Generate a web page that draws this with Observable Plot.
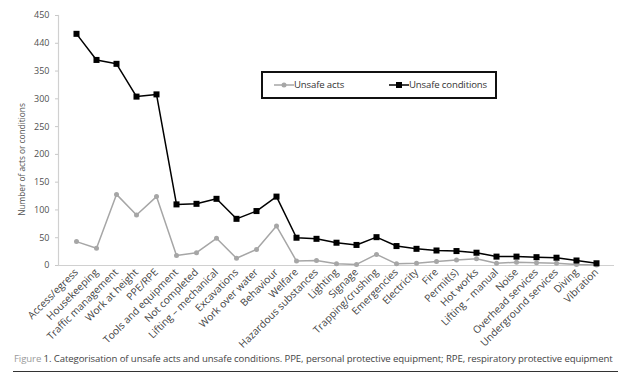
<!DOCTYPE html>
<html>
<head>
<meta charset="utf-8">
<script src="https://cdn.jsdelivr.net/npm/d3@7"></script>
<script src="https://cdn.jsdelivr.net/npm/@observablehq/plot@0.6"></script>
<style>
  body { margin: 0; background: #fff; font-family: "Open Sans", sans-serif; }
  #wrap { position: relative; width: 623px; height: 389px; }
  #legend { position: absolute; left: 261px; top: 71px; width: 232px; height: 24px; border: 2px solid #111; background: #fff; font-size: 9.6px; color: #333; letter-spacing: -0.15px; }
  #legend .item { position: absolute; top: 5px; display: flex; align-items: center; }
  #caption { position: absolute; left: 14px; top: 352px; font-size: 9.6px; color: #444; white-space: nowrap; letter-spacing: -0.1px; }
  #caption .fig { color: #9a9a9a; }
  #rule { position: absolute; left: 13px; top: 371px; width: 605px; height: 0; border-top: 1.6px solid #333; }
</style>
</head>
<body>
<div id="wrap">
  <div id="chart"></div>
  <div id="legend">
    <div class="item" style="left: 11px;"><svg width="20" height="12"><line x1="0" y1="6" x2="20" y2="6" stroke="#a6a6a6" stroke-width="1.5"/><circle cx="10" cy="6" r="2.5" fill="#a6a6a6"/></svg><span>Unsafe acts</span></div>
    <div class="item" style="left: 126px;"><svg width="20" height="12"><line x1="0" y1="6" x2="20" y2="6" stroke="#000" stroke-width="1.5"/><rect x="7" y="3" width="6" height="6" fill="#000"/></svg><span>Unsafe conditions</span></div>
  </div>
  <div id="caption"><span class="fig">Figure</span> 1. Categorisation of unsafe acts and unsafe conditions. PPE, personal protective equipment; RPE, respiratory protective equipment</div>
  <div id="rule"></div>
</div>
<script>
const categories = ["Access/egress", "Housekeeping", "Traffic management", "Work at height", "PPE/RPE", "Tools and equipment", "Not completed", "Lifting – mechanical", "Excavations", "Work over water", "Behaviour", "Welfare", "Hazardous substances", "Lighting", "Signage", "Trapping/crushing", "Emergencies", "Electricity", "Fire", "Permit(s)", "Hot works", "Lifting – manual", "Noise", "Overhead services", "Underground services", "Diving", "Vibration"];
const unsafeActs = [43, 31, 128, 91, 124, 18, 23, 49, 13, 29, 71, 8, 9, 3, 2, 20, 3, 4, 7, 10, 12, 4, 6, 5, 4, 2, 1];
const unsafeConditions = [417, 370, 363, 304, 308, 110, 111, 120, 84, 98, 124, 50, 48, 41, 37, 51, 35, 30, 27, 26, 23, 16, 16, 15, 14, 9, 4];
const yTickValues = [0, 50, 100, 150, 200, 250, 300, 350, 400, 450];
const yTickLabels = ["0", "50", "100", "150", "200", "250", "300", "350", "440", "450"];
const yLabel = "Number of acts or conditions";

const acts = categories.map((c, i) => ({category: c, value: unsafeActs[i]}));
const conds = categories.map((c, i) => ({category: c, value: unsafeConditions[i]}));

const chart = Plot.plot({
  width: 623,
  height: 348,
  marginTop: 15,
  marginBottom: 83,
  marginLeft: 58,
  marginRight: 9,
  style: {fontFamily: "'Open Sans', sans-serif", fontSize: "9px", color: "#595959", background: "#fff", overflow: "visible"},
  x: {type: "point", domain: categories, padding: 0.5},
  y: {domain: [0, 450]},
  marks: [
    Plot.ruleY([0], {stroke: "#d0d0d0", strokeWidth: 1.2}),
    Plot.frame({anchor: "left", stroke: "#d0d0d0", strokeWidth: 1.2}),
    Plot.axisY({ticks: yTickValues, tickFormat: d => yTickLabels[yTickValues.indexOf(d)], tickSize: 3, tickPadding: 6, stroke: "#c8c8c8", fill: "#505050", label: null}),
    Plot.text([yLabel], {text: d => d, frameAnchor: "left", textAnchor: "middle", rotate: -90, dx: -36, dy: 19, fontSize: 8.3, fill: "#505050"}),
    Plot.axisX({tickRotate: -45, tickSize: 0, tickPadding: 5, fill: "#444", fontSize: 10.2, label: null}),
    Plot.line(acts, {x: "category", y: "value", stroke: "#a6a6a6", strokeWidth: 1.5}),
    Plot.dot(acts, {x: "category", y: "value", fill: "#a6a6a6", r: 2.5}),
    Plot.line(conds, {x: "category", y: "value", stroke: "#000", strokeWidth: 1.5}),
    Plot.dot(conds, {x: "category", y: "value", fill: "#000", symbol: "square", r: 3.4})
  ]
});
document.getElementById("chart").appendChild(chart);
</script>
</body>
</html>
